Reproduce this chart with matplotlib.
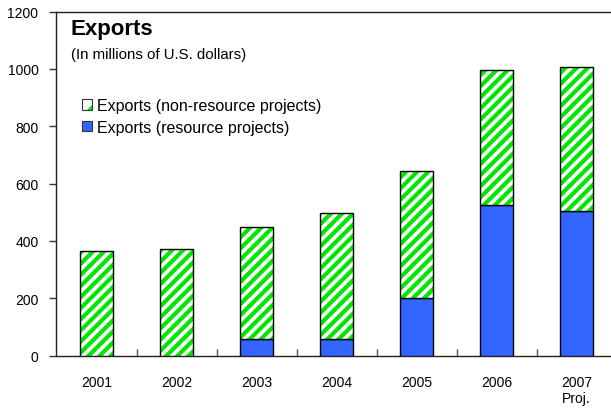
import matplotlib
matplotlib.use("Agg")
import matplotlib.pyplot as plt
from matplotlib.patches import Patch
from matplotlib.legend_handler import HandlerTuple
import numpy as np

plt.rcParams['font.family'] = ['Liberation Sans', 'DejaVu Sans']
plt.rcParams['hatch.linewidth'] = 3.0

years = ["2001", "2002", "2003", "2004", "2005", "2006", "2007\nProj."]
resource = [0, 0, 57, 57, 202, 525, 503]
non_resource = [364, 370, 392, 440, 443, 471, 505]
yticks = [0, 200, 400, 600, 800, 1000, 1200]

blue = "#3366FF"
green = "#00E600"

W, H = 611, 410
fig = plt.figure(figsize=(W / 100, H / 100), dpi=100)
ax = fig.add_axes([56.5 / W, 53.5 / H, 560 / W, 344 / H])

x = np.arange(len(years))
w = 0.41
ax.bar(x, resource, width=w, color=blue, edgecolor="black", linewidth=1.0, zorder=3)
ax.bar(x, non_resource, width=w, bottom=resource, color="white",
       edgecolor=green, hatch="///", linewidth=0, zorder=3)
ax.bar(x, non_resource, width=w, bottom=resource, fill=False,
       edgecolor="black", linewidth=1.0, zorder=4)

ax.set_xlim(-0.5, len(years) - 0.5)
ax.set_ylim(0, 1200)
ax.set_yticks(yticks)
ax.set_yticklabels([str(v) for v in yticks], fontsize=10)
ax.set_xticks(x)
ax.set_xticklabels(years, fontsize=10, va="top", linespacing=1.15)
ax.tick_params(axis="x", length=0, pad=14)
ax.set_xticks(np.arange(len(years) - 1) + 0.5, minor=True)
ax.tick_params(axis="x", which="minor", direction="in", length=5, width=1, color="#555555")
ax.tick_params(axis="y", direction="out", length=5, width=1, pad=8, color="#333333")
for s in ax.spines.values():
    s.set_linewidth(1.0)
    s.set_color("#222222")

fig.text(71 / W, 1 - 35.5 / H, "Exports", fontsize=16, fontweight="bold",
         va="baseline", ha="left")
fig.text(71 / W, 1 - 59.5 / H, "(In millions of U.S. dollars)", fontsize=10.8,
         va="baseline", ha="left")

h_non = (Patch(facecolor="white", edgecolor=green, hatch="/", linewidth=0),
         Patch(fill=False, edgecolor="#333333", linewidth=0.8))
h_res = Patch(facecolor=blue, edgecolor="#333333", linewidth=0.8)
leg = fig.legend([h_non, h_res],
                 ["Exports (non-resource projects)", "Exports (resource projects)"],
                 handler_map={tuple: HandlerTuple(ndivide=1, pad=0)},
                 loc="upper left", bbox_to_anchor=(82 / W, 1 - 99 / H), frameon=False,
                 fontsize=11.5, handlelength=0.62, handleheight=0.62, handletextpad=0.34,
                 labelspacing=0.42, borderaxespad=0, borderpad=0)

fig.savefig("out.png", dpi=100)
